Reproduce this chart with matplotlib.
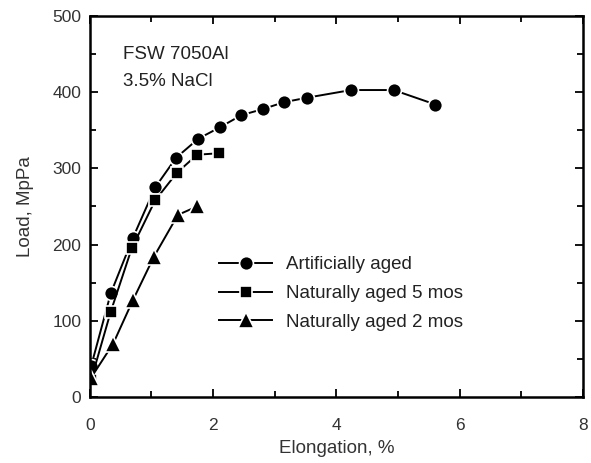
import matplotlib
matplotlib.use("Agg")
import matplotlib.pyplot as plt
from matplotlib.ticker import MultipleLocator

plt.rcParams["font.family"] = ["Liberation Sans", "DejaVu Sans"]

# Artificially aged
x_art = [0.02, 0.34, 0.70, 1.06, 1.40, 1.76, 2.11, 2.46, 2.81, 3.15, 3.53, 4.24, 4.93, 5.61]
y_art = [40, 136, 209, 275, 314, 339, 354, 370, 378, 387, 393, 403, 403, 384]
# Naturally aged 5 mos
x_n5 = [0.02, 0.34, 0.68, 1.06, 1.41, 1.74, 2.10]
y_n5 = [22, 112, 195, 258, 294, 318, 320]
# Naturally aged 2 mos
x_n2 = [0.02, 0.38, 0.70, 1.04, 1.43, 1.74]
y_n2 = [25, 70, 127, 184, 239, 250]

fig = plt.figure(figsize=(5.91, 4.63), dpi=100)
ax = fig.add_axes([0.152, 0.143, 0.834, 0.822])

common = dict(color="black", lw=1.4, mec="white", mfc="black", mew=1.2)
ax.plot(x_art, y_art, marker="o", ms=10, label="Artificially aged", **common)
ax.plot(x_n5, y_n5, marker="s", ms=8.5, label="Naturally aged 5 mos", **common)
ax.plot(x_n2, y_n2, marker="^", ms=11, label="Naturally aged 2 mos", **common)

ax.set_xlim(0, 8)
ax.set_ylim(0, 500)
ax.xaxis.set_major_locator(MultipleLocator(2))
ax.xaxis.set_minor_locator(MultipleLocator(1))
ax.yaxis.set_major_locator(MultipleLocator(100))
ax.yaxis.set_minor_locator(MultipleLocator(50))
ax.tick_params(which="both", direction="in", top=True, right=True, width=1.3,
               labelsize=12.5, labelcolor="#333333")
ax.tick_params(axis="x", which="both", pad=15)
ax.tick_params(axis="y", which="both", pad=6)
ax.tick_params(which="major", length=6)
ax.tick_params(which="minor", length=4)
for s in ax.spines.values():
    s.set_linewidth(1.8)

ax.set_xlabel("Elongation, %", fontsize=13.5, color="#333333", labelpad=5)
ax.set_ylabel("Load, MpPa", fontsize=13.5, color="#333333", labelpad=13)

ax.text(0.067, 0.9, "FSW 7050Al", transform=ax.transAxes, fontsize=13.5, color="#222222", va="center")
ax.text(0.067, 0.829, "3.5% NaCl", transform=ax.transAxes, fontsize=13.5, color="#222222", va="center")

ax.legend(loc="upper left", bbox_to_anchor=(0.255, 0.379), frameon=False, fontsize=13.5,
          handlelength=2.8, handletextpad=0.75, labelspacing=0.62, borderpad=0.2,
          borderaxespad=0, labelcolor="#222222")

fig.savefig("out.png", dpi=100)
